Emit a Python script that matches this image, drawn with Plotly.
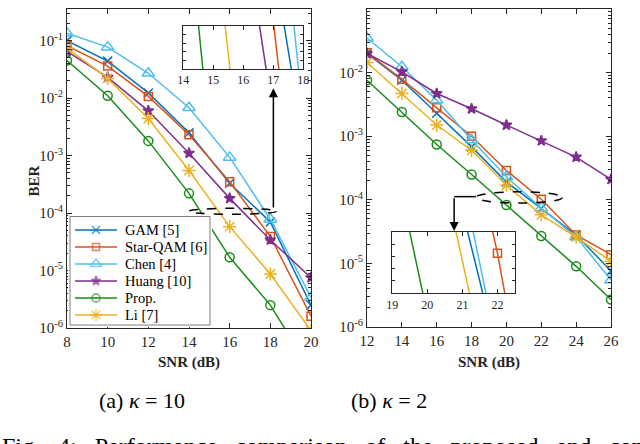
import numpy as np
import plotly.graph_objects as go

# ---------------- data ----------------
snr_a = [8, 10, 12, 14, 16, 18, 20]
gam_a = [0.10, 0.044, 0.0123, 0.0025, 3.3e-4, 7.0e-5, 2.5e-6]
star_a = [0.082, 0.036, 0.0107, 0.0023, 3.5e-4, 3.9e-5, 1.6e-6]
chen_a = [0.135, 0.077, 0.027, 0.0068, 9.3e-4, 7.8e-5, 3.4e-6]
huang_a = [0.065, 0.023, 0.006, 0.0011, 1.8e-4, 3.4e-5, 7.5e-6]
prop_a = [0.045, 0.011, 0.0018, 2.2e-4, 1.7e-5, 2.5e-6, 1.8e-7]
li_a = [0.074, 0.022, 0.0044, 5.5e-4, 5.8e-5, 8.7e-6, 9.0e-7]

snr_b = [12, 14, 16, 18, 20, 22, 24, 26]
gam_b = [0.020, 0.0076, 0.0023, 6.8e-4, 1.9e-4, 7.3e-5, 2.8e-5, 7.6e-6]
star_b = [0.0205, 0.0079, 0.0028, 1.0e-3, 2.9e-4, 1.02e-4, 2.8e-5, 1.37e-5]
chen_b = [0.035, 0.0124, 0.0037, 8.7e-4, 2.3e-4, 7.4e-5, 2.6e-5, 5.5e-6]
huang_b = [0.020, 0.0103, 0.0047, 0.0027, 0.0015, 8.5e-4, 4.7e-4, 2.1e-4]
prop_b = [0.0076, 0.0024, 7.4e-4, 2.5e-4, 8.3e-5, 2.7e-5, 9.0e-6, 2.7e-6]
li_b = [0.0144, 0.0047, 0.0015, 6.0e-4, 1.7e-4, 5.8e-5, 2.6e-5, 1.08e-5]

names = ["GAM [5]", "Star-QAM [6]", "Chen [4]", "Huang [10]", "Prop.", "Li [7]"]
ytick_vals = [1e-6, 1e-5, 1e-4, 1e-3, 1e-2, 1e-1]
ytick_text = ["10<sup>-6</sup>", "10<sup>-5</sup>", "10<sup>-4</sup>",
              "10<sup>-3</sup>", "10<sup>-2</sup>", "10<sup>-1</sup>"]
xticks_a = [8, 10, 12, 14, 16, 18, 20]
xticks_b = [12, 14, 16, 18, 20, 22, 24, 26]
inset_ticks_a = [14, 15, 16, 17, 18]
inset_ticks_b = [19, 20, 21, 22]

# ---------------- styles ----------------
colors = ["#0072BD", "#D95319", "#4DBEEE", "#7E2F8E", "#1A8C1A", "#EDB120"]
symbols = ["x-thin-open", "square-open", "triangle-up-open", "star", "circle-open", "asterisk-open"]
msizes = [9, 8, 11, 8, 9, 11]
FONT = "Liberation Serif"
AX = "#262626"
W, H = 640, 444
YR_A = [-6, -0.45]
YR_B = [-6, -0.999]

def px_x(p):
    return p / W

def px_y(p):
    return 1 - p / H

def fy(logv, rng):
    return (logv - rng[0]) / (rng[1] - rng[0])

series_a = [gam_a, star_a, chen_a, huang_a, prop_a, li_a]
series_b = [gam_b, star_b, chen_b, huang_b, prop_b, li_b]

fig = go.Figure()

def add_series(xv, yset, xa, ya):
    for i, yv in enumerate(yset):
        fig.add_trace(go.Scatter(
            x=xv, y=yv, mode="lines+markers", name=names[i],
            xaxis=xa, yaxis=ya, showlegend=False,
            line=dict(color=colors[i], width=1.5),
            marker=dict(symbol=symbols[i], size=msizes[i], color=colors[i],
                        line=dict(color=colors[i], width=1.5)),
        ))

add_series(snr_a, series_a, "x", "y")
add_series(snr_b, series_b, "x2", "y2")
add_series(snr_a, series_a, "x3", "y3")
add_series(snr_b, series_b, "x4", "y4")

# ---------------- legend (MATLAB-style box, drawn on a pixel-unit overlay axis) -------------
LEG_L, LEG_R, LEG_T, LEG_B = 70, 210, 216.5, 325
row0, step = 230, 17.0
fig.add_trace(go.Scatter(
    x=[LEG_L, LEG_R, LEG_R, LEG_L, LEG_L], y=[LEG_T, LEG_T, LEG_B, LEG_B, LEG_T],
    mode="lines", fill="toself", fillcolor="white", line=dict(color="#7f7f7f", width=1),
    xaxis="x5", yaxis="y5", showlegend=False, hoverinfo="skip"))
for i, nm in enumerate(names):
    yy = row0 + i * step
    fig.add_trace(go.Scatter(
        x=[75, 96, 117], y=[yy, yy, yy], mode="lines+markers",
        line=dict(color=colors[i], width=1.5),
        marker=dict(symbol=symbols[i], size=[0, msizes[i] - 1, 0], color=colors[i],
                    line=dict(color=colors[i], width=1.5)),
        xaxis="x5", yaxis="y5", showlegend=False, hoverinfo="skip"))
    fig.add_annotation(x=122.5, y=yy, xref="x5", yref="y5", text=nm, showarrow=False,
                       xanchor="left", yanchor="middle",
                       font=dict(family=FONT, size=14.5, color="black"))

minor_vals = [m * 10.0 ** e for e in range(-6, 0) for m in range(2, 10)]

def main_x(domain, ticks, rng, anchor):
    return dict(domain=domain, range=rng, tickvals=ticks, ticks="inside", ticklen=5,
                tickcolor=AX, showline=True, linecolor=AX, linewidth=1, mirror="ticks",
                showgrid=False, zeroline=False, anchor=anchor, automargin=False,
                tickfont=dict(family=FONT, size=15, color=AX))

def main_y(domain, rng, anchor):
    return dict(domain=domain, type="log", range=rng, tickvals=ytick_vals, ticktext=ytick_text,
                ticks="inside", ticklen=5, tickcolor=AX, showline=True, linecolor=AX,
                linewidth=1, mirror="ticks", showgrid=False, zeroline=False, anchor=anchor,
                automargin=False, tickfont=dict(family=FONT, size=15, color=AX),
                minor=dict(ticks="inside", ticklen=3, tickcolor=AX, tickvals=minor_vals))

def inset_x(domain, ticks, rng, anchor):
    return dict(domain=domain, range=rng, tickvals=ticks, ticks="inside", ticklen=4,
                tickcolor=AX, showline=True, linecolor=AX, linewidth=1, mirror="ticks",
                showgrid=False, zeroline=False, anchor=anchor, automargin=False,
                tickfont=dict(family=FONT, size=12, color=AX))

def inset_y(domain, rng, anchor):
    return dict(domain=domain, type="log", range=rng, showticklabels=False,
                tickvals=[10 ** (rng[0] + k * (rng[1] - rng[0]) / 5) for k in range(1, 5)],
                ticks="inside", ticklen=3, tickcolor=AX, showline=True, linecolor=AX,
                linewidth=1, mirror="ticks", showgrid=False, zeroline=False, anchor=anchor,
                automargin=False)

hidden = dict(visible=False, showgrid=False, zeroline=False, automargin=False, fixedrange=True)

fig.update_layout(
    template="none",
    width=W, height=H, margin=dict(l=0, r=0, t=0, b=0, pad=0), autosize=False,
    paper_bgcolor="white", plot_bgcolor="white", showlegend=False,
    font=dict(family=FONT, color=AX),
    xaxis=main_x([px_x(67), px_x(311)], xticks_a, [8, 20], "y"),
    yaxis=main_y([px_y(328), px_y(9)], YR_A, "x"),
    xaxis2=main_x([px_x(367), px_x(611)], xticks_b, [12, 26], "y2"),
    yaxis2=main_y([px_y(327), px_y(9)], YR_B, "x2"),
    xaxis3=inset_x([px_x(183.3), px_x(303.3)], inset_ticks_a, [14, 18], "y3"),
    yaxis3=inset_y([px_y(69), px_y(25.7)], [-4.02, -3.94], "x3"),
    xaxis4=inset_x([px_x(392.3), px_x(515)], inset_ticks_b, [19, 22.5], "y4"),
    yaxis4=inset_y([px_y(293.3), px_y(231.7)], [-4.05, -3.96], "x4"),
    xaxis5=dict(hidden, domain=[px_x(LEG_L - 2), px_x(LEG_R + 2)], range=[LEG_L - 2, LEG_R + 2], anchor="y5"),
    yaxis5=dict(hidden, domain=[px_y(LEG_B + 2), px_y(LEG_T - 2)], range=[LEG_B + 2, LEG_T - 2], anchor="x5"),
)

# dashed ellipses marking the zoomed regions
fig.add_shape(type="circle", xref="x", yref="y domain", x0=13.97, x1=18.31,
              y0=fy(-4.02, YR_A), y1=fy(-3.918, YR_A),
              line=dict(color="black", width=1.5, dash="dash"))
fig.add_shape(type="circle", xref="x2", yref="y2 domain", x0=18.25, x1=23.2,
              y0=fy(-4.05, YR_B), y1=fy(-3.874, YR_B),
              line=dict(color="black", width=1.5, dash="dash"))
fig.add_shape(type="line", xref="x2", yref="y2 domain", x0=18.25, x1=17.0,
              y0=fy(-3.95, YR_B), y1=fy(-3.95, YR_B),
              line=dict(color="black", width=1.5))

# arrows
fig.add_annotation(x=18.15, y=-1.83, ax=18.15, ay=-3.93, xref="x", yref="y",
                   axref="x", ayref="y", text="", showarrow=True,
                   arrowhead=2, arrowsize=1.2, arrowwidth=1.5, arrowcolor="black")
fig.add_annotation(x=17.0, y=-4.49, ax=17.0, ay=-3.95, xref="x2", yref="y2",
                   axref="x2", ayref="y2", text="", showarrow=True,
                   arrowhead=2, arrowsize=1.2, arrowwidth=1.5, arrowcolor="black")

def label(xp, yp, text, size, color=AX, angle=0, xanchor="center"):
    fig.add_annotation(x=px_x(xp), y=px_y(yp), xref="paper", yref="paper", text=text,
                       textangle=angle, showarrow=False, xanchor=xanchor, yanchor="middle",
                       font=dict(family=FONT, size=size, color=color))

# axis titles
label(33, 181.5, "<b>BER</b>", 15, angle=-90)
label(189, 362.5, "<b>SNR (dB)</b>", 15)
label(489, 362.5, "<b>SNR (dB)</b>", 15)

# sub-captions
label(141.7, 400, "(a) <i>κ</i> = 10", 22, color="black")
label(389, 400, "(b) <i>κ</i> = 2", 22, color="black")

sp = "\u00a0\u2002"
fig_caption = sp.join(["Fig.", "4:", "Performance", "comparison", "of", "the", "proposed",
                       "and", "conventional", "schemes."])
label(0, 446, fig_caption, 24, color="black", xanchor="left")

fig.write_html("out.html", config={"displayModeBar": False},
               post_script="document.body.style.margin='0px';")
